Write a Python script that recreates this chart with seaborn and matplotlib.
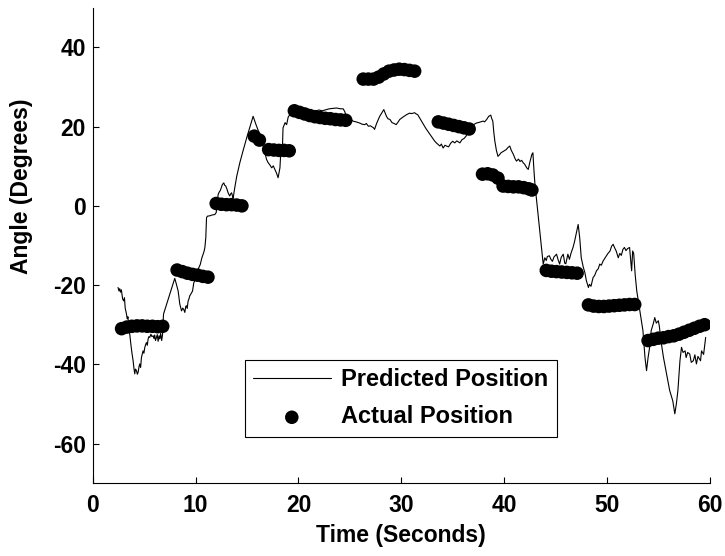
import matplotlib
matplotlib.use("Agg")
import matplotlib.pyplot as plt
import seaborn as sns
import pandas as pd

# --- data ---
pred_time = [
    2.45, 2.55, 2.62, 2.70, 2.78, 2.90, 3.00, 3.08, 3.15, 3.25, 3.35, 3.42, 3.50, 3.60,
    3.70, 3.80, 3.92, 4.00, 4.08, 4.15, 4.25, 4.33, 4.41, 4.50, 4.57, 4.65, 4.73, 4.80,
    4.89, 4.97, 5.06, 5.14, 5.22, 5.30, 5.38, 5.46, 5.54, 5.65, 5.75, 5.87, 5.95, 6.02,
    6.10, 6.19, 6.27, 6.35, 6.44, 6.52, 6.60, 6.70, 6.78, 6.84, 6.88, 7.97, 8.10, 8.30,
    8.46, 8.63, 8.75, 8.85, 8.95, 9.03, 9.10, 9.18, 9.27, 9.35, 9.43, 9.55, 9.70, 9.82,
    9.95, 10.08, 10.20, 10.30, 10.45, 10.60, 10.73, 10.82, 10.90, 10.95, 10.99, 11.03,
    11.06, 11.15, 11.40, 11.60, 11.86, 12.00, 12.10, 12.19, 12.30, 12.40, 12.50, 12.60,
    12.74, 12.82, 12.93, 13.05, 13.16, 13.25, 13.32, 13.40, 13.50, 13.58, 13.65, 13.80,
    14.00, 14.30, 14.60, 15.00, 15.59, 15.90, 16.24, 16.60, 16.90, 17.05, 17.20, 17.40,
    17.55, 17.70, 17.86, 17.95, 18.02, 18.10, 18.20, 18.25, 18.44, 18.50, 18.70, 18.85,
    19.00, 19.16, 19.40, 19.70, 20.00, 20.30, 20.50, 20.80, 21.10, 21.40, 21.75, 22.00,
    22.30, 22.70, 23.00, 23.40, 23.70, 24.10, 24.35, 24.50, 24.60, 24.90, 25.30, 25.60,
    25.96, 26.20, 26.45, 26.60, 26.80, 27.00, 27.30, 27.40, 27.60, 27.90, 28.30, 28.56,
    28.70, 28.90, 29.10, 29.30, 29.50, 29.70, 29.85, 30.10, 30.50, 30.80, 31.00, 31.30,
    31.45, 31.60, 32.40, 33.26, 33.45, 33.75, 33.90, 34.07, 34.25, 34.40, 34.60, 34.80,
    35.00, 35.20, 35.40, 35.70, 35.90, 36.10, 36.30, 36.60, 36.90, 37.30, 37.60, 37.96,
    38.10, 38.30, 38.50, 38.70, 38.80, 38.90, 39.00, 39.10, 39.25, 39.40, 39.55, 39.70,
    39.95, 40.20, 40.40, 40.55, 40.70, 40.90, 41.05, 41.20, 41.40, 41.55, 41.70, 41.85,
    42.00, 42.20, 42.35, 42.50, 42.70, 42.80, 42.90, 43.00, 43.80, 43.96, 44.10, 44.20,
    44.40, 44.55, 44.70, 44.85, 45.00, 45.10, 45.25, 45.40, 45.55, 45.75, 45.90, 46.00,
    46.20, 46.35, 46.50, 46.70, 46.85, 47.00, 47.20, 47.35, 47.50, 47.70, 47.85, 48.00,
    48.20, 48.30, 48.45, 48.65, 48.80, 48.98, 49.15, 49.30, 49.45, 49.63, 49.80, 49.95,
    50.10, 50.30, 50.45, 50.60, 50.75, 50.90, 51.10, 51.25, 51.40, 51.55, 51.70, 51.85,
    52.00, 52.20, 52.30, 52.40, 52.50, 52.60, 52.75, 52.90, 53.20, 53.50, 53.70, 53.85,
    54.00, 54.20, 54.30, 54.50, 54.65, 54.80, 55.00, 55.10, 55.30, 55.50, 55.80, 56.10,
    56.40, 56.60, 56.75, 56.90, 57.10, 57.25, 57.40, 57.60, 57.70, 57.85, 58.05, 58.20,
    58.40, 58.55, 58.70, 58.85, 59.10, 59.20, 59.40, 59.60,
]
pred_angle = [
    -20.6, -21.5, -20.9, -21.8, -21.2, -23.5, -24.0, -23.2, -25.8, -27.0, -28.5, -28.0, -31.0, -32.5,
    -34.9, -37.0, -39.1, -41.0, -42.4, -41.2, -41.6, -42.5, -42.0, -40.5, -39.9, -40.8, -38.3, -37.5,
    -36.6, -37.2, -35.7, -35.0, -34.5, -35.2, -33.6, -33.0, -33.2, -32.4, -33.0, -32.8, -33.5, -32.6,
    -34.0, -33.2, -32.5, -34.2, -32.8, -33.6, -32.2, -34.0, -32.5, -29.0, -27.3, -18.3, -19.5, -21.5,
    -24.8, -26.5, -25.8, -26.2, -26.9, -25.5, -25.2, -25.9, -24.0, -23.5, -22.7, -22.2, -21.5, -19.4,
    -18.8, -16.9, -16.2, -15.6, -14.8, -13.2, -12.2, -11.5, -10.5, -9.0, -8.0, -5.5,
    -3.0, -2.6, -2.5, -2.3, -2.2, -1.7, 0.5, 2.9, 3.5, 3.9, 4.6, 5.4,
    5.8, 5.2, 5.0, 4.2, 3.3, 2.8, 2.5, 3.0, 3.3, 2.5, 2.0, 4.5,
    7.5, 10.9, 13.8, 17.5, 22.6, 20.3, 18.0, 14.8, 11.7, 10.9, 10.4, 9.6,
    10.1, 9.2, 8.3, 7.6, 7.1, 8.2, 9.6, 12.1, 14.6, 19.7, 21.0, 20.5,
    22.4, 23.0, 23.5, 23.8, 24.2, 24.0, 24.4, 24.3, 23.9, 24.1, 24.0, 24.2,
    24.0, 24.3, 24.5, 24.6, 24.7, 24.5, 24.5, 23.8, 23.0, 22.2, 21.4, 21.2,
    20.9, 20.6, 20.5, 20.8, 20.1, 20.2, 19.7, 19.3, 20.8, 22.6, 24.3, 22.6,
    22.0, 21.8, 21.0, 20.8, 20.5, 21.2, 21.8, 22.3, 23.0, 23.4, 23.3, 23.5,
    23.2, 23.0, 19.5, 16.3, 15.8, 15.1, 15.6, 14.6, 15.3, 15.1, 14.9, 15.8,
    16.3, 15.9, 16.4, 15.9, 16.7, 17.0, 17.6, 19.5, 20.3, 20.9, 21.1, 21.4,
    21.2, 21.8, 22.6, 22.9, 22.0, 21.4, 18.5, 16.3, 14.0, 12.5, 12.9, 13.4,
    13.8, 14.2, 14.8, 15.1, 14.0, 13.0, 12.0, 11.3, 11.8, 11.2, 11.5, 10.9,
    10.5, 9.6, 9.2, 11.0, 13.0, 13.4, 9.0, 5.4, -14.7, -13.1, -13.8, -12.8,
    -12.6, -13.5, -14.0, -12.9, -12.5, -12.2, -13.6, -14.7, -13.0, -12.2, -14.5, -14.6,
    -12.2, -13.5, -12.0, -10.5, -9.0, -7.2, -4.7, -8.0, -13.1, -15.5, -16.8, -18.9,
    -20.6, -19.8, -20.3, -18.1, -17.6, -16.4, -15.9, -14.7, -15.0, -13.9, -13.2, -12.6,
    -12.0, -11.4, -10.2, -9.7, -10.6, -11.4, -13.1, -12.0, -12.5, -11.0, -10.5, -11.3,
    -10.8, -10.5, -13.5, -16.4, -11.4, -12.0, -17.5, -21.5, -26.5, -31.5, -38.3, -41.6,
    -38.3, -34.9, -31.5, -29.8, -28.2, -29.6, -29.0, -30.5, -34.9, -38.3, -42.4, -46.6,
    -49.2, -52.5, -50.0, -46.6, -39.1, -35.7, -37.0, -36.6, -38.3, -37.0, -37.4, -39.5,
    -39.1, -37.6, -39.9, -38.0, -39.1, -36.6, -37.5, -33.2,
]

actual_time = [
    2.8, 3.3, 3.8, 4.3, 4.8, 5.3, 5.8, 6.3, 6.8,
    8.2, 8.7, 9.2, 9.7, 10.2, 10.7, 11.2,
    12.0, 12.5, 13.0, 13.5, 14.0, 14.5,
    15.7, 16.2,
    17.1, 17.6, 18.1, 18.6, 19.1,
    19.6, 20.1, 20.6, 21.1, 21.6, 22.1, 22.6, 23.1, 23.6, 24.1, 24.6,
    26.3, 26.8, 27.3, 27.8,
    28.3, 28.8, 29.3, 29.8, 30.3, 30.8, 31.3,
    33.6, 34.1, 34.6, 35.1, 35.6, 36.1, 36.6,
    37.9, 38.4, 38.9, 39.4,
    39.9, 40.4, 40.9, 41.4, 41.9, 42.4, 42.7,
    44.1, 44.6, 45.1, 45.6, 46.1, 46.6, 47.1,
    48.2, 48.7, 49.2, 49.7, 50.2, 50.7, 51.2, 51.7, 52.2, 52.7,
    54.0, 54.5, 55.0, 55.5, 56.0, 56.5, 57.0, 57.5, 58.0, 58.5, 59.0, 59.5,
]
actual_angle = [
    -31.0, -30.6, -30.4, -30.3, -30.3, -30.4, -30.4, -30.5, -30.4,
    -16.2, -16.6, -17.0, -17.3, -17.5, -17.8, -18.0,
    0.6, 0.4, 0.3, 0.3, 0.2, 0.0,
    17.6, 16.6,
    14.2, 14.1, 14.0, 14.0, 13.9,
    24.0, 23.6, 23.2, 22.8, 22.5, 22.3, 22.1, 22.0, 21.8, 21.7, 21.6,
    32.0, 32.0, 32.0, 32.5,
    33.3, 34.0, 34.3, 34.5, 34.4, 34.2, 34.0,
    21.2, 20.9, 20.6, 20.3, 20.0, 19.7, 19.4,
    8.0, 8.1, 7.8, 7.0,
    5.0, 4.9, 4.8, 4.8, 4.6, 4.3, 4.0,
    -16.3, -16.5, -16.6, -16.7, -16.8, -16.9, -17.0,
    -25.0, -25.3, -25.4, -25.4, -25.3, -25.2, -25.1, -25.0, -24.9, -24.9,
    -34.0, -33.7, -33.4, -33.3, -33.0, -32.8, -32.4, -31.9, -31.4, -30.9, -30.4, -30.0,
]

pred = pd.DataFrame({"Time": pred_time, "Angle": pred_angle})
actual = pd.DataFrame({"Time": actual_time, "Angle": actual_angle})

sns.set_style("ticks")
plt.rcParams["font.family"] = ["Liberation Sans", "DejaVu Sans"]
plt.rcParams["axes.unicode_minus"] = False
plt.rcParams["text.color"] = "black"
plt.rcParams["axes.labelcolor"] = "black"

fig = plt.figure(figsize=(7.25, 5.56), dpi=100)
ax = fig.add_axes([0.128, 0.131, 0.851, 0.855])

sns.lineplot(data=pred, x="Time", y="Angle", estimator=None, sort=False,
             color="black", linewidth=0.8, ax=ax, label="Predicted Position")
sns.scatterplot(data=actual, x="Time", y="Angle", color="black", s=95,
                edgecolor="none", ax=ax, label="Actual Position", zorder=3)

ax.set_xlim(0, 60)
ax.set_ylim(-70, 50)
ax.set_xticks([0, 10, 20, 30, 40, 50, 60])
ax.set_yticks([-60, -40, -20, 0, 20, 40])
ax.tick_params(direction="in", length=4, width=0.8, labelsize=16.5, colors="black")
ax.tick_params(axis="x", pad=8)
ax.tick_params(axis="y", pad=5)
for lab in ax.get_xticklabels() + ax.get_yticklabels():
    lab.set_fontweight("bold")
for side in ["left", "bottom"]:
    ax.spines[side].set_linewidth(0.8)
    ax.spines[side].set_color("black")
sns.despine(ax=ax)

ax.set_xlabel("Time (Seconds)", fontsize=16.5, fontweight="bold", labelpad=5, color="black")
ax.set_ylabel("Angle (Degrees)", fontsize=16.5, fontweight="bold", color="black")
ax.yaxis.set_label_coords(-0.097, 0.625)

leg = ax.legend(loc="upper left", bbox_to_anchor=(0.246, 0.259), frameon=True,
                fancybox=False, edgecolor="black", framealpha=1, borderpad=0.35,
                handlelength=3.3, handletextpad=0.45, labelspacing=0.6,
                borderaxespad=0, prop={"size": 17, "weight": "bold"}, scatterpoints=1)
leg.get_frame().set_linewidth(0.8)
for txt in leg.get_texts():
    txt.set_color("black")

fig.savefig("out.png", dpi=100)
